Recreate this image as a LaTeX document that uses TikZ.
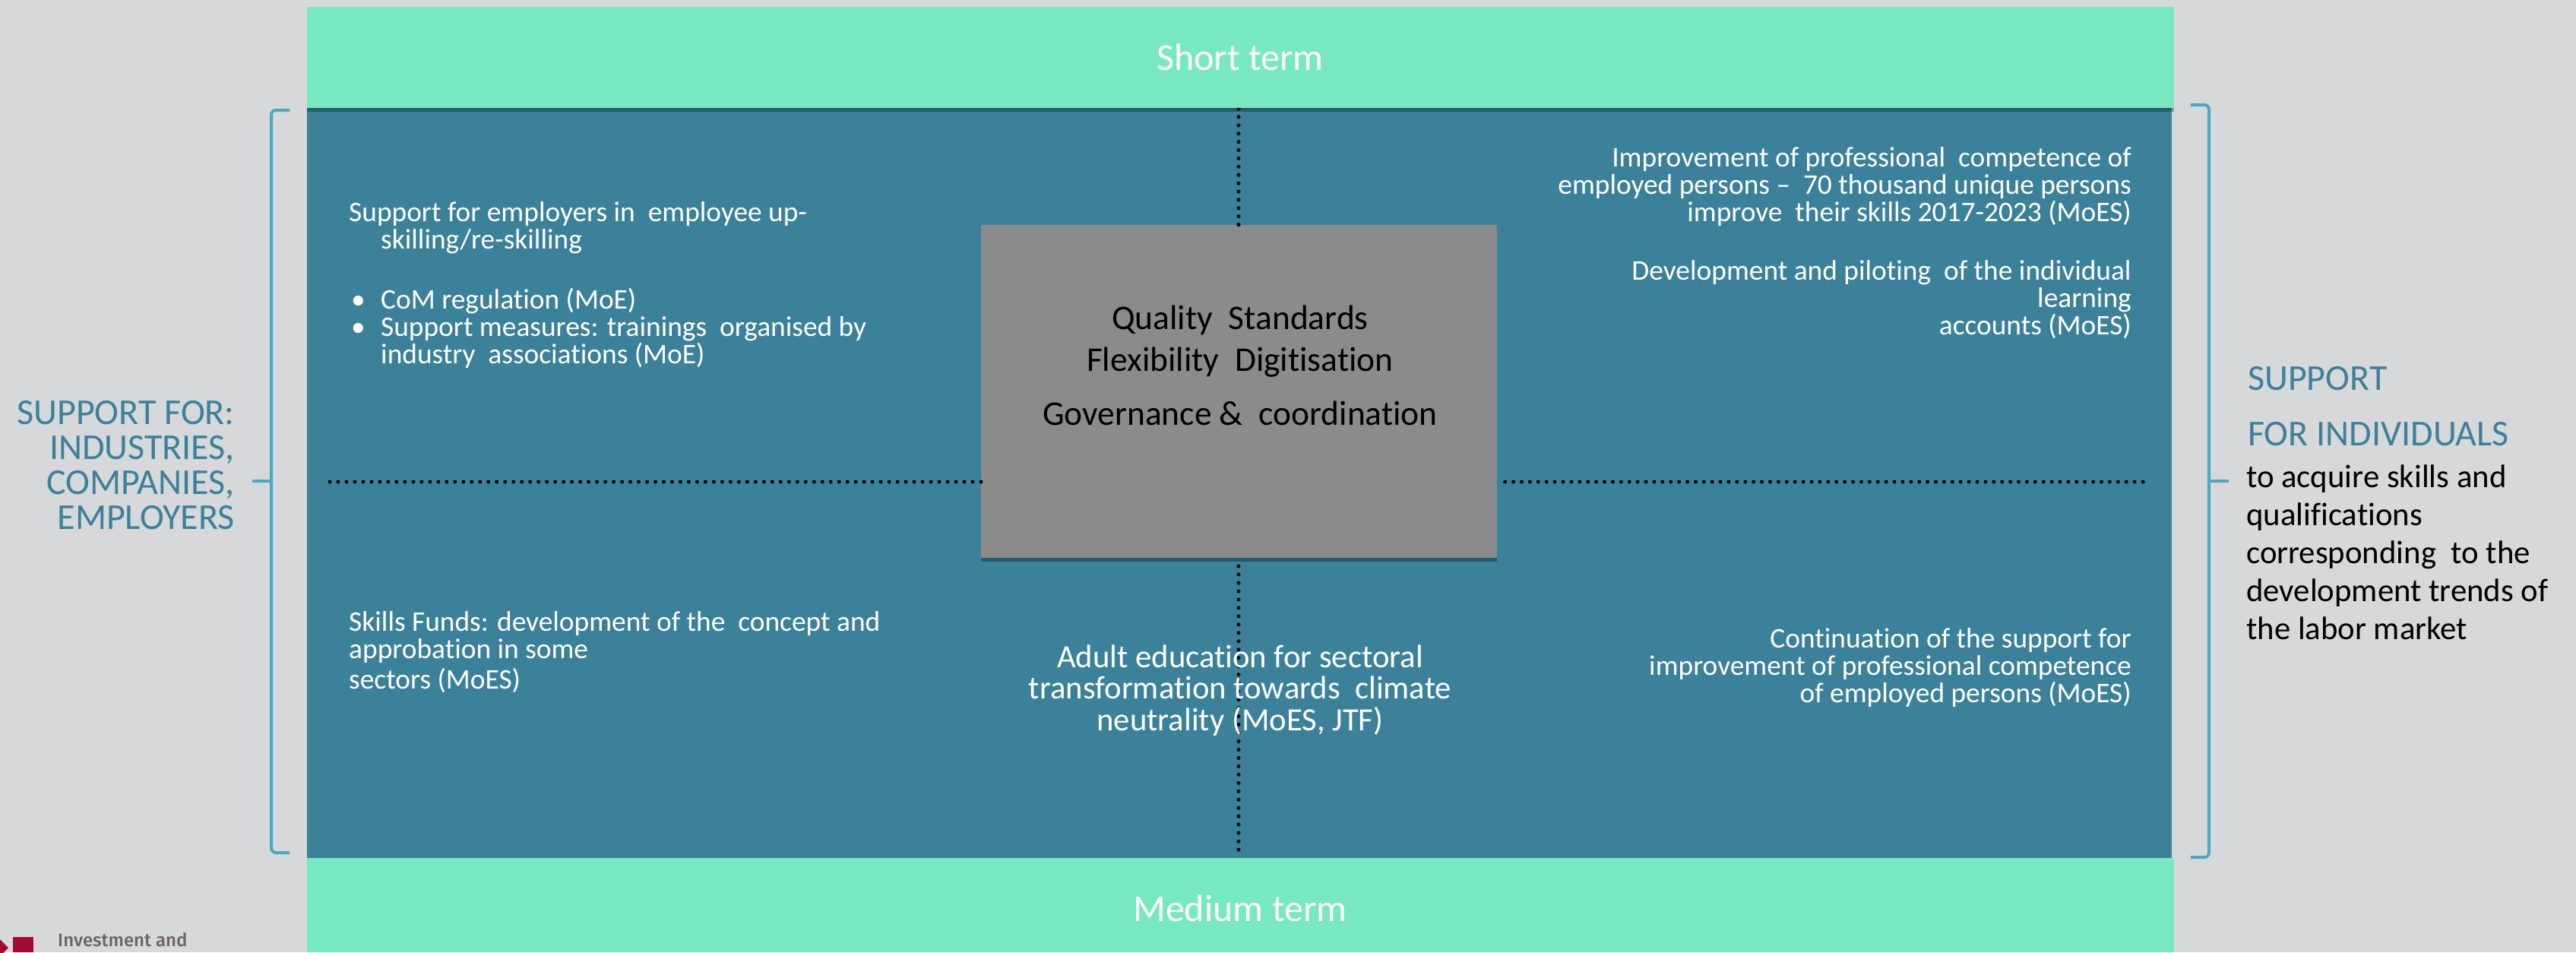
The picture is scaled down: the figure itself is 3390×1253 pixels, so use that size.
\documentclass[tikz,border=0pt]{standalone}
\usepackage{fontspec}
\setmainfont[Ligatures=NoCommon]{Carlito}
\newfontfamily\logofont{Fira Sans Medium}
\usetikzlibrary{shadows}
\definecolor{pagegrey}{HTML}{D7D8DA}
\definecolor{termgreen}{HTML}{78E8C0}
\definecolor{panelteal}{HTML}{3B8199}
\definecolor{boxgrey}{HTML}{8B8B8B}
\definecolor{bracketblue}{HTML}{4AA9C0}
\definecolor{logored}{HTML}{A50A32}
\definecolor{logotext}{HTML}{6B6462}
\newcommand{\bul}{\makebox[42pt][l]{\hspace*{3pt}•}}
\tikzset{
  bartext/.style={inner sep=0pt,text=white,font=\fontsize{50}{60}\selectfont,anchor=base},
  paneltext/.style={inner sep=0pt,text=white,font=\fontsize{37.4}{36}\selectfont,anchor=base west,align=left},
  righttext/.style={inner sep=0pt,text=white,font=\fontsize{37.4}{36}\selectfont,anchor=base east,align=right},
  dotline/.style={line width=5pt,line cap=round,dash pattern=on 0pt off 10.9pt},
  bracket/.style={line width=4pt,bracketblue,rounded corners=6pt},
  softshadow/.style={drop shadow={shadow xshift=0pt,shadow yshift=-5pt,fill=black,opacity=.3}},
}
\begin{document}
\begin{tikzpicture}[x=1pt,y=-1pt]
\clip (0,0) rectangle (3390,1253);
\fill[pagegrey] (0,0) rectangle (3390,1253);
\node[fill=panelteal,minimum width=2454pt,minimum height=990pt,inner sep=0pt,anchor=north west] (panel) at (404,140) {};

% dotted cross
\node[fill=boxgrey,minimum width=679pt,minimum height=438pt,inner sep=0pt,anchor=north west,softshadow] (box) at (1291,296) {};
\coordinate (crossleft) at (434,634);
\coordinate (crossright) at (2820,634);
\coordinate (crosstop) at (1630,143);
\coordinate (crossbottom) at (1630,1118);
\draw[dotline,dash pattern=on 0pt off 10.987pt] (crossleft)--(box.west |- crossleft);
\draw[dotline] (crossright)--(box.east |- crossright);
\draw[dotline] (crosstop)--(box.north -| crosstop);
\draw[dotline,dash pattern=on 0pt off 10.97pt] (crossbottom)--(box.south -| crossbottom);

% term bars
\node[fill=termgreen,minimum width=2457pt,minimum height=133pt,inner sep=0pt,anchor=north west,softshadow] (shortbar) at (404,9) {};
\node[fill=termgreen,minimum width=2457pt,minimum height=124pt,inner sep=0pt,anchor=north west] (mediumbar) at (404,1129) {};
\node[bartext] (shortlabel) at (1632,92) {Short term};
\node[bartext] (mediumlabel) at (1632,1212) {Medium term};

% left bracket
\coordinate (leftup) at (381,145);
\coordinate (leftdown) at (381,1122);
\coordinate (lefttick) at (332,633);
\draw[bracket] (leftup)--(357,145)--(357,1122)--(leftdown);
\draw[line width=4pt,bracketblue] (lefttick)--(357,633);

% right bracket
\coordinate (rightup) at (2883,138);
\coordinate (rightdown) at (2883,1128);
\coordinate (righttick) at (2933,633);
\draw[bracket] (rightup)--(2907,138)--(2907,1128)--(rightdown);
\draw[line width=4pt,bracketblue] (righttick)--(2907,633);

% panel texts
\node[paneltext] (employers) at (459,327) {Support for employers in~ employee up-\\\hspace*{42pt}skilling/re-skilling};
\node[paneltext] (measures) at (459,478) {\bul CoM regulation (MoE)\\\bul Support measures: trainings~ organised by\\\hspace*{42pt}industry~ associations (MoE)};
\node[paneltext] (funds) at (459,906) {Skills Funds: development of the~ concept and\\approbation in some\\[4pt]sectors (MoES)};
\node[righttext] (competence) at (2805,291) {Improvement of professional~ competence of\\employed persons --~ 70 thousand unique persons\\improve~ their skills 2017-2023 (MoES)};
\node[righttext] (accounts) at (2805,440) {Development and piloting~ of the individual\\learning\\accounts (MoES)};
\node[righttext] (continuation) at (2805,924) {Continuation of the support for\\improvement of professional competence\\of employed persons (MoES)};

% centre texts
\node[inner sep=0pt,font=\fontsize{45.5}{55}\selectfont,align=center,anchor=base] (topics) at (1632,559) {Quality~ Standards\\Flexibility~ Digitisation\\[16pt]Governance \&~ coordination};
\node[inner sep=0pt,text=white,font=\fontsize{42.7}{41.5}\selectfont,align=center,anchor=base] (adult) at (1632,961) {Adult education for sectoral\\transformation towards~ climate\\neutrality (MoES, JTF)};

% side labels
\node[inner sep=0pt,text=panelteal,font=\fontsize{48}{46}\selectfont,align=right,anchor=base east] (companies) at (309,696) {SUPPORT FOR:\\INDUSTRIES,\\COMPANIES,\\EMPLOYERS};
\node[inner sep=0pt,text=panelteal,font=\fontsize{48}{73}\selectfont,align=left,anchor=base west] (individuals) at (2958,586) {SUPPORT\\FOR INDIVIDUALS};
\node[inner sep=0pt,font=\fontsize{42.8}{50}\selectfont,align=left,anchor=base west] (acquire) at (2956,841) {to acquire skills and\\qualifications\\corresponding~ to the\\development trends of\\the labor market};

% logo
\fill[logored] (0,1236)--(11,1247)--(0,1258)--cycle;
\node[fill=logored,minimum width=27pt,minimum height=20pt,inner sep=0pt,anchor=north west] (logosquare) at (17,1233) {};
\node[inner sep=0pt,text=logotext,font=\logofont\fontsize{24}{24}\selectfont,anchor=base west] (logotext) at (76,1245) {Investment and};
\end{tikzpicture}
\end{document}
